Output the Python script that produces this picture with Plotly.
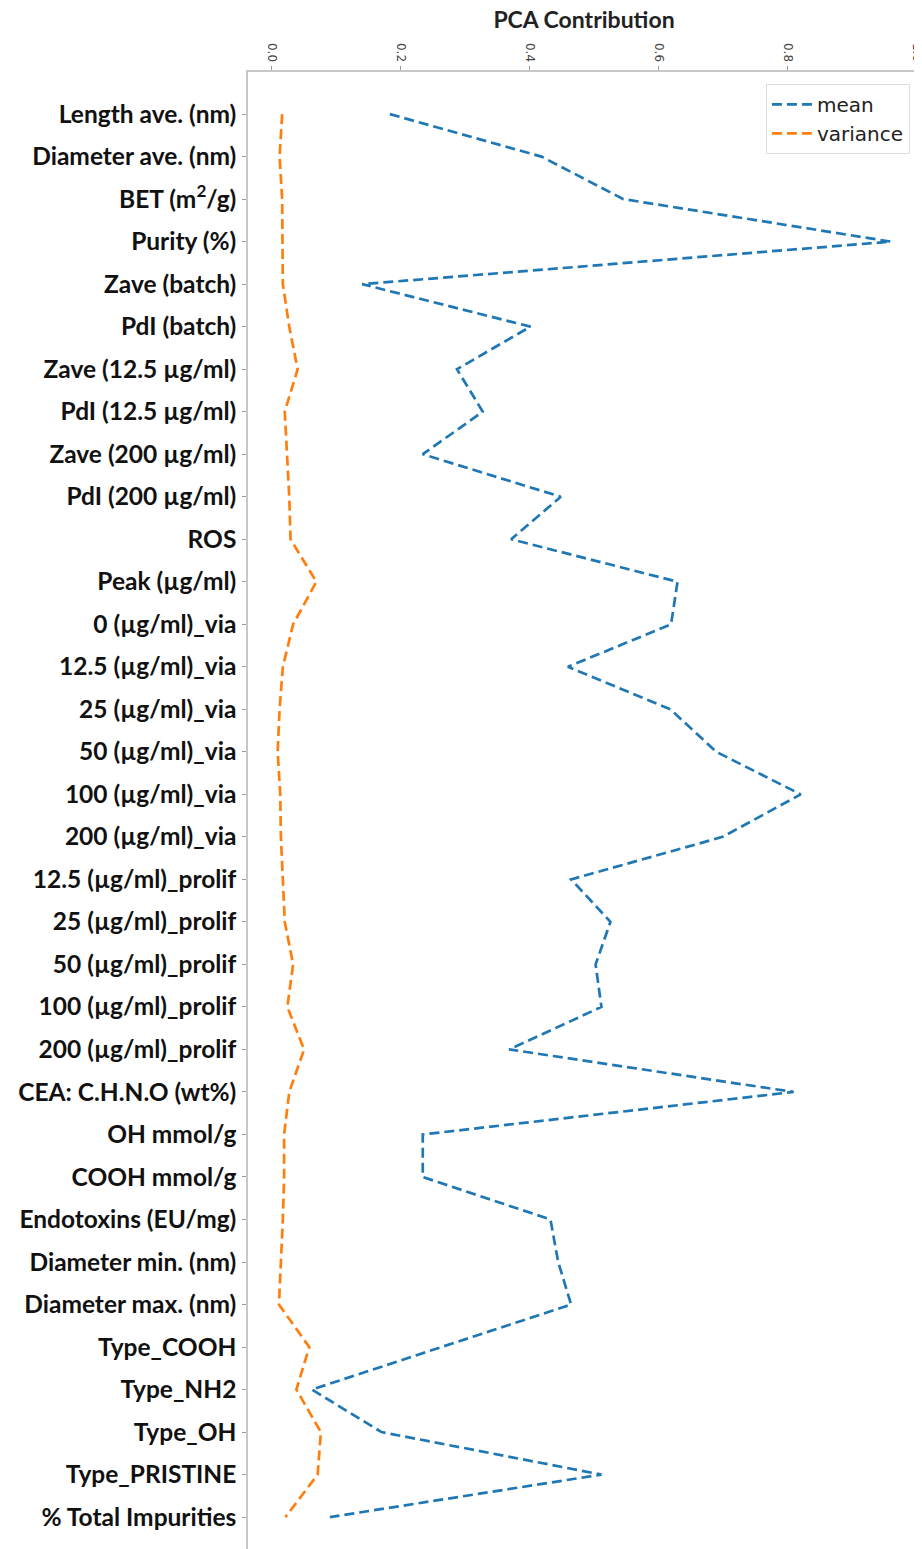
import plotly.graph_objects as go

features = [
    "Length ave. (nm)", "Diameter ave. (nm)", "BET (m<sup>2</sup>/g)", "Purity (%)",
    "Zave (batch)", "PdI (batch)", "Zave (12.5 µg/ml)", "PdI (12.5 µg/ml)",
    "Zave (200 µg/ml)", "PdI (200 µg/ml)", "ROS", "Peak (µg/ml)",
    "0 (µg/ml)_via", "12.5 (µg/ml)_via", "25 (µg/ml)_via", "50 (µg/ml)_via",
    "100 (µg/ml)_via", "200 (µg/ml)_via", "12.5 (µg/ml)_prolif", "25 (µg/ml)_prolif",
    "50 (µg/ml)_prolif", "100 (µg/ml)_prolif", "200 (µg/ml)_prolif", "CEA: C.H.N.O (wt%)",
    "OH mmol/g", "COOH mmol/g", "Endotoxins (EU/mg)", "Diameter min. (nm)",
    "Diameter max. (nm)", "Type_COOH", "Type_NH2", "Type_OH",
    "Type_PRISTINE", "% Total Impurities",
]

mean_vals = [
    0.183, 0.418, 0.545, 0.960, 0.140, 0.401, 0.287, 0.327,
    0.234, 0.448, 0.371, 0.629, 0.619, 0.459, 0.618, 0.689,
    0.820, 0.699, 0.464, 0.525, 0.502, 0.511, 0.368, 0.809,
    0.234, 0.234, 0.432, 0.444, 0.464, 0.264, 0.062, 0.170,
    0.511, 0.090,
]

variance_vals = [
    0.016, 0.012, 0.016, 0.016, 0.017, 0.027, 0.040, 0.020,
    0.024, 0.027, 0.029, 0.069, 0.033, 0.017, 0.012, 0.009,
    0.013, 0.014, 0.017, 0.020, 0.033, 0.024, 0.050, 0.027,
    0.019, 0.019, 0.017, 0.014, 0.011, 0.058, 0.038, 0.076,
    0.071, 0.021,
]

x_ticks = [0.0, 0.2, 0.4, 0.6, 0.8, 1.0]

# page body has an 8px default margin; the figure is offset by it
W, H = 922, 1549

fig = go.Figure()
fig.add_trace(go.Scatter(
    x=mean_vals, y=features, mode="lines", name="mean",
    line=dict(color="#1f77b4", width=2.7, dash="10px,5px"),
))
fig.add_trace(go.Scatter(
    x=variance_vals, y=features, mode="lines", name="variance",
    line=dict(color="#ff7f0e", width=2.7, dash="10px,5px"),
))

fig.update_layout(
    width=W, height=H,
    margin=dict(l=240, r=10, t=64, b=8),
    paper_bgcolor="white", plot_bgcolor="white",
    title=dict(
        text="<b>PCA Contribution</b>", x=0.5, xref="paper", xanchor="center",
        y=1 - 12 / H, yref="container", yanchor="middle",
        font=dict(family="Lato", size=23, color="#222"),
    ),
    legend=dict(
        x=0.985, y=0.992, xanchor="right", yanchor="top",
        bgcolor="rgba(255,255,255,0.9)", bordercolor="#dddddd", borderwidth=1,
        font=dict(family="DejaVu Sans", size=20, color="#222"),
        itemwidth=40, tracegroupgap=0,
    ),
    showlegend=True,
)

fig.update_xaxes(
    side="top", range=[-0.037, 1.005], tickvals=x_ticks,
    ticktext=[f"{v:.1f}" for v in x_ticks], tickangle=90,
    tickfont=dict(family="DejaVu Sans", size=12, color="#444"),
    showgrid=False, zeroline=False, showline=True, linecolor="#c8c8c8",
    linewidth=1.5, mirror=True, ticks="outside", ticklen=4, tickcolor="#999",
    automargin=False, ticklabeloverflow="allow",
)
fig.update_yaxes(
    type="category", categoryorder="array", categoryarray=features,
    range=[33.75, -0.99],
    tickvals=features, ticktext=[f"<b>{f}</b>" for f in features],
    tickfont=dict(family="Lato", size=24.5, color="#111"),
    showgrid=False, zeroline=False, showline=True, linecolor="#c8c8c8",
    linewidth=1.5, mirror=True, ticks="outside", ticklen=4, tickcolor="#999",
    ticklabelstandoff=1, automargin=False,
)

fig.write_html("out.html")
